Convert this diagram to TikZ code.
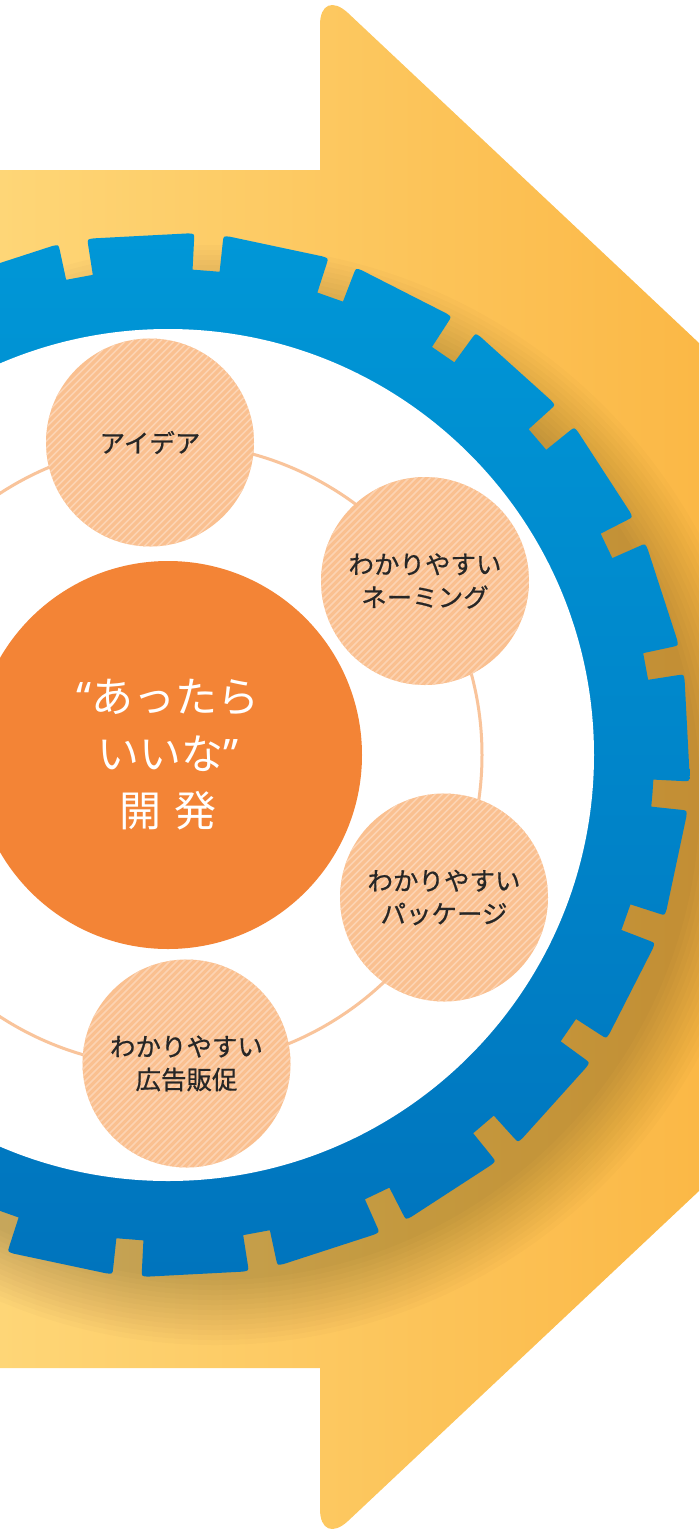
\documentclass[tikz,border=0pt]{standalone}
\usepackage{fontspec}
\setmainfont{Noto Sans CJK JP}
\newfontfamily\medfont{Noto Sans CJK JP}[FakeBold=0.6]
\newfontfamily\qfont{Noto Sans}
\usetikzlibrary{calc}
\definecolor{arrowL}{HTML}{FED677}
\definecolor{arrowR}{HTML}{FBB846}
\definecolor{gearT}{HTML}{0097D7}
\definecolor{gearB}{HTML}{0074BD}
\definecolor{coreC}{HTML}{F38436}
\definecolor{peachC}{HTML}{FAC090}
\definecolor{stripeC}{HTML}{FCD3B2}
\definecolor{ringC}{HTML}{F9C49B}
\definecolor{inkC}{HTML}{262626}
\begin{document}
\begin{tikzpicture}[x=1pt,y=1pt,
  topic/.style={circle, fill=peachC, minimum size=208pt, inner sep=0pt,
    align=center, text=inkC, font=\medfont\fontsize{25.5}{33}\selectfont,
    path picture={\foreach \i in {-20,...,20}{\draw[stripeC, line width=1.7pt]
      ([shift={(\i*7-130,-130)}]path picture bounding box.center) -- ++(260,260);}}},
  core/.style={circle, fill=coreC, minimum size=388pt, inner sep=0pt,
    align=center, text=white, font=\fontsize{42}{57}\selectfont},
  ringline/.style={ringC, line width=3pt},
  shadowlayer/.style={black, opacity=0.015}]
\useasboundingbox (0,0) rectangle (699,-1529);
\clip (0,0) rectangle (699,-1529);
\coordinate (G) at (168,-755);
\coordinate (S) at (215,-795);
% arrow
\shade[left color=arrowL, right color=arrowR]
  (0,-170) -- (320,-170) -- (320,-25) .. controls (320,-4.1) and (332.6,1.3) .. (348,-13)
  -- (699,-343) -- (699,-1191) -- (348,-1521)
  .. controls (332.6,-1535.3) and (320,-1529.9) .. (320,-1509)
  -- (320,-1368) -- (0,-1368) -- cycle;
% shadow
\begin{scope}
\clip (0,-170) -- (320,-170) -- (320,-25) .. controls (320,-4.1) and (332.6,1.3) .. (348,-13)
  -- (699,-343) -- (699,-1191) -- (348,-1521)
  .. controls (332.6,-1535.3) and (320,-1529.9) .. (320,-1509)
  -- (320,-1368) -- (0,-1368) -- cycle;
\foreach \r in {485,490,...,550} \fill[shadowlayer] (S) circle (\r pt);
\end{scope}
% gear
\shade[top color=gearT, bottom color=gearB]
  ($(G)+(-4.5:486)$)
  \foreach \k [evaluate=\k as \am using 3+15*\k-5.9,
               evaluate=\k as \amm using 3+15*\k-5.2,
               evaluate=\k as \apm using 3+15*\k+5.2,
               evaluate=\k as \ap using 3+15*\k+5.9] in {0,...,23}{
    -- ($(G)+(\am:486)$)
    -- ($(G)+(\am:516)$)
    .. controls ($(G)+(\am:522)$) .. ($(G)+(\amm:522)$)
    -- ($(G)+(\apm:522)$)
    .. controls ($(G)+(\ap:522)$) .. ($(G)+(\ap:516)$)
    -- ($(G)+(\ap:486)$)
  } -- cycle;
\fill[white] (G) circle (426pt);
% ring
\draw[ringline] (170,-755) circle (312pt);
% nodes
\node[core] (main) at (G) {{\qfont “}あったら\\いいな{\qfont ”}\\開\hspace{0.3em}発};
\node[topic] (idea) at (150,-442.5) {アイデア};
\node[topic] (naming) at (425,-581) {わかりやすい\\ネーミング};
\node[topic] (pkg) at (444,-897.5) {わかりやすい\\パッケージ};
\node[topic] (promo) at (186.5,-1063.5) {わかりやすい\\広告販促};
\end{tikzpicture}
\end{document}
